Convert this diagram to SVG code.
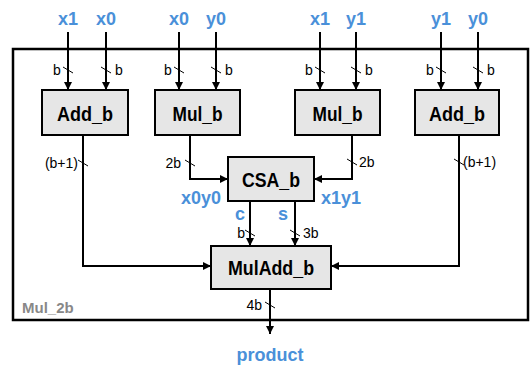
<svg xmlns="http://www.w3.org/2000/svg" width="532" height="366" viewBox="0 0 532 366">
<style>
.box{fill:#e6e6e6;stroke:#000;stroke-width:2}
.bt{font-family:"Liberation Sans",Arial,sans-serif;font-weight:bold;font-size:21px;text-anchor:middle;fill:#000}
.in{font-family:"Liberation Sans",Arial,sans-serif;font-weight:bold;font-size:18px;text-anchor:middle;fill:#4a90d9}
.bl{font-family:"Liberation Sans",Arial,sans-serif;font-weight:bold;font-size:18px;fill:#4a90d9}
.w{font-family:"Liberation Sans",Arial,sans-serif;font-size:14px;fill:#000}
.ln{fill:none;stroke:#000;stroke-width:2}
.sl{stroke:#000;stroke-width:1}
</style>
<defs>
<marker id="ah" viewBox="0 0 10 10" refX="10" refY="5" markerWidth="4" markerHeight="4" orient="auto" markerUnits="strokeWidth">
<path d="M0,0 L10,5 L0,10 z" fill="#000"/>
</marker>
</defs>
<g id="frame">
<rect x="13" y="49" width="515" height="271" fill="none" stroke="#000" stroke-width="2.5"/>
<text x="22" y="313" font-family="Liberation Sans,Arial,sans-serif" font-weight="bold" font-size="15" fill="#888">Mul_2b</text>
</g>
<g id="connectors">
<path class="ln" d="M68,32 V90" marker-end="url(#ah)"/>
<path class="ln" d="M106,32 V90" marker-end="url(#ah)"/>
<path class="ln" d="M179,32 V90" marker-end="url(#ah)"/>
<path class="ln" d="M216,32 V90" marker-end="url(#ah)"/>
<path class="ln" d="M320,32 V90" marker-end="url(#ah)"/>
<path class="ln" d="M356,32 V90" marker-end="url(#ah)"/>
<path class="ln" d="M441,32 V90" marker-end="url(#ah)"/>
<path class="ln" d="M478,32 V90" marker-end="url(#ah)"/>
<path class="ln" d="M83,135 V266 H211" marker-end="url(#ah)"/>
<path class="ln" d="M190,135 V179 H228" marker-end="url(#ah)"/>
<path class="ln" d="M352,135 V179 H314" marker-end="url(#ah)"/>
<path class="ln" d="M459,135 V266 H331" marker-end="url(#ah)"/>
<path class="ln" d="M250,201 V246" marker-end="url(#ah)"/>
<path class="ln" d="M295,201 V246" marker-end="url(#ah)"/>
<path class="ln" d="M270,289 V334" marker-end="url(#ah)"/>
<g class="sl">
<line x1="63" y1="67" x2="73" y2="73"/>
<line x1="101" y1="67" x2="111" y2="73"/>
<line x1="174" y1="67" x2="184" y2="73"/>
<line x1="211" y1="67" x2="221" y2="73"/>
<line x1="315" y1="67" x2="325" y2="73"/>
<line x1="351" y1="67" x2="361" y2="73"/>
<line x1="436" y1="67" x2="446" y2="73"/>
<line x1="473" y1="67" x2="483" y2="73"/>
<line x1="78" y1="160" x2="88" y2="166"/>
<line x1="185" y1="160" x2="195" y2="166"/>
<line x1="347" y1="159" x2="357" y2="165"/>
<line x1="454" y1="159" x2="464" y2="165"/>
<line x1="245" y1="230" x2="255" y2="236"/>
<line x1="290" y1="230" x2="300" y2="236"/>
<line x1="265" y1="302" x2="275" y2="308"/>
</g>
<g class="w">
<text x="53" y="75">b</text>
<text x="115" y="75">b</text>
<text x="164" y="75">b</text>
<text x="225" y="75">b</text>
<text x="305" y="75">b</text>
<text x="365" y="75">b</text>
<text x="426" y="75">b</text>
<text x="487" y="75">b</text>
<text x="78" y="168" text-anchor="end">(b+1)</text>
<text x="181" y="168" text-anchor="end">2b</text>
<text x="359" y="167">2b</text>
<text x="463" y="167">(b+1)</text>
<text x="245" y="238" text-anchor="end">b</text>
<text x="303" y="238">3b</text>
<text x="262" y="310" text-anchor="end">4b</text>
</g>
<g class="in">
<text x="68" y="25">x1</text>
<text x="106" y="25">x0</text>
<text x="179" y="25">x0</text>
<text x="216" y="25">y0</text>
<text x="320" y="25">x1</text>
<text x="356" y="25">y1</text>
<text x="441" y="25">y1</text>
<text x="478" y="25">y0</text>
<text x="240" y="220">c</text>
<text x="283" y="220">s</text>
<text x="270" y="361">product</text>
</g>
<text class="bl" x="181" y="204">x0y0</text>
<text class="bl" x="321" y="204">x1y1</text>
</g>
<g id="add_b_left">
<rect class="box" x="42" y="90" width="86" height="45"/>
<text class="bt" x="85" y="121" textLength="56" lengthAdjust="spacingAndGlyphs">Add_b</text>
</g>
<g id="mul_b_left">
<rect class="box" x="155" y="90" width="85" height="45"/>
<text class="bt" x="197.5" y="121" textLength="50" lengthAdjust="spacingAndGlyphs">Mul_b</text>
</g>
<g id="mul_b_right">
<rect class="box" x="295" y="90" width="85" height="45"/>
<text class="bt" x="337.5" y="121" textLength="50" lengthAdjust="spacingAndGlyphs">Mul_b</text>
</g>
<g id="add_b_right">
<rect class="box" x="415" y="90" width="84" height="45"/>
<text class="bt" x="457" y="121" textLength="56" lengthAdjust="spacingAndGlyphs">Add_b</text>
</g>
<g id="csa_b">
<rect class="box" x="228" y="157" width="86" height="44"/>
<text class="bt" x="271" y="187" textLength="58" lengthAdjust="spacingAndGlyphs">CSA_b</text>
</g>
<g id="muladd_b">
<rect class="box" x="211" y="246" width="120" height="43"/>
<text class="bt" x="271" y="275" textLength="86" lengthAdjust="spacingAndGlyphs">MulAdd_b</text>
</g>
</svg>
